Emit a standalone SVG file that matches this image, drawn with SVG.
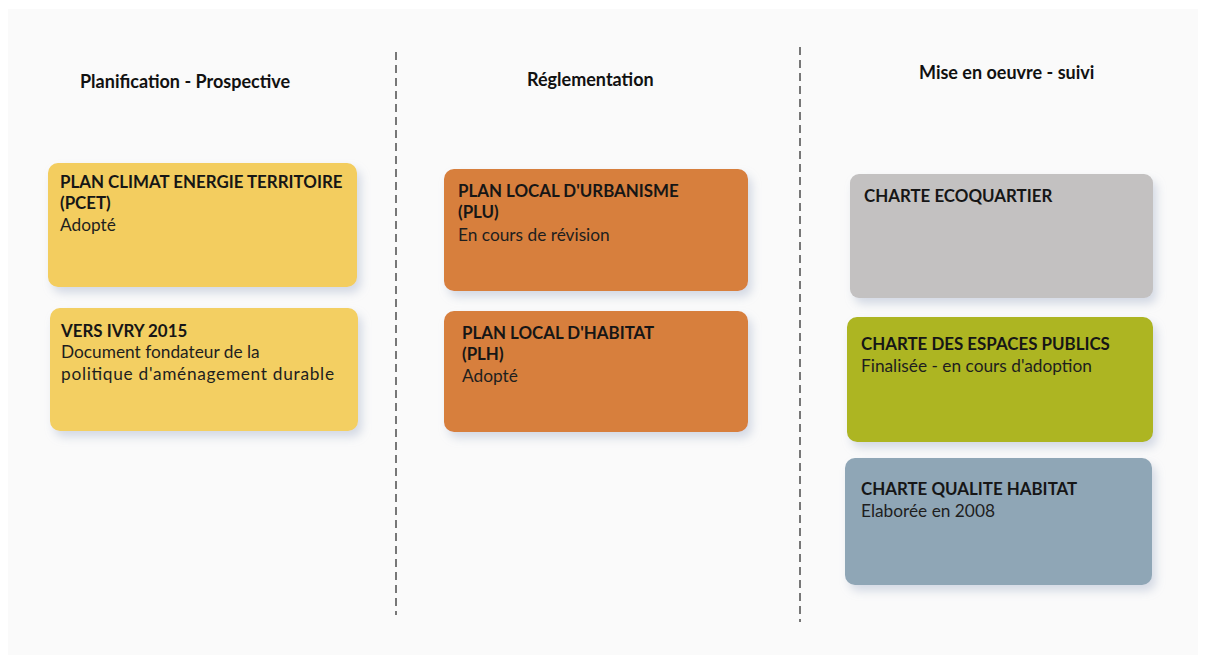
<svg xmlns="http://www.w3.org/2000/svg" width="1206" height="659" viewBox="0 0 1206 659">
<style>
.hdr{font-family:Lato,"Open Sans",sans-serif;font-weight:bold;font-size:18px;fill:#111}
.t{font-family:Lato,"Open Sans",sans-serif;font-weight:bold;font-size:16.9px;fill:#161616}
.s{font-family:Lato,"Open Sans",sans-serif;font-size:17.3px;fill:#1e1e1e}
.sep{stroke:#777;stroke-width:2;stroke-dasharray:8,5;fill:none}
.box{filter:url(#sh)}
</style>
<defs>
<filter id="sh" x="-10%" y="-15%" width="125%" height="140%">
<feDropShadow dx="4" dy="6" stdDeviation="5" flood-color="#9aa8c4" flood-opacity="0.4"/>
</filter>
</defs>
<rect width="1206" height="659" fill="#ffffff"/>
<rect x="8" y="9" width="1190" height="646" fill="#fafafa"/>
<g id="connectors">
<line class="sep" x1="396" y1="52" x2="396" y2="615"/>
<line class="sep" x1="800" y1="47" x2="800" y2="622"/>
</g>
<g id="headers">
<text class="hdr" x="80" y="88">Planification - Prospective</text>
<text class="hdr" x="527" y="86">Réglementation</text>
<text class="hdr" x="919" y="79">Mise en oeuvre - suivi</text>
</g>
<g id="pcet">
<rect class="box" x="48" y="163" width="309" height="124" rx="10" fill="#f3cd5e"/>
<text class="t" x="60" y="188">PLAN CLIMAT ENERGIE TERRITOIRE</text>
<text class="t" x="60" y="209">(PCET)</text>
<text class="s" x="60" y="231">Adopté</text>
</g>
<g id="versivry">
<rect class="box" x="50" y="308" width="308" height="123" rx="10" fill="#f3cf62"/>
<text class="t" x="61" y="337">VERS IVRY 2015</text>
<text class="s" x="61" y="358">Document fondateur de la</text>
<text class="s" x="61" y="380" textLength="273">politique d'aménagement durable</text>
</g>
<g id="plu">
<rect class="box" x="444" y="169" width="304" height="122" rx="10" fill="#d77f3e"/>
<text class="t" x="458" y="197">PLAN LOCAL D'URBANISME</text>
<text class="t" x="458" y="218">(PLU)</text>
<text class="s" x="458" y="241">En cours de révision</text>
</g>
<g id="plh">
<rect class="box" x="444" y="311" width="304" height="121" rx="10" fill="#d77f3e"/>
<text class="t" x="462" y="339">PLAN LOCAL D'HABITAT</text>
<text class="t" x="462" y="360">(PLH)</text>
<text class="s" x="462" y="382">Adopté</text>
</g>
<g id="ecoquartier">
<rect class="box" x="850" y="174" width="303" height="124" rx="9" fill="#c3c1c1"/>
<text class="t" x="864" y="202">CHARTE ECOQUARTIER</text>
</g>
<g id="espacespublics">
<rect class="box" x="847" y="317" width="306" height="125" rx="10" fill="#adb523"/>
<text class="t" x="861" y="350">CHARTE DES ESPACES PUBLICS</text>
<text class="s" x="861" y="372">Finalisée - en cours d'adoption</text>
</g>
<g id="qualitehabitat">
<rect class="box" x="845" y="458" width="307" height="127" rx="10" fill="#8fa6b6"/>
<text class="t" x="861" y="495">CHARTE QUALITE HABITAT</text>
<text class="s" x="861" y="517">Elaborée en 2008</text>
</g>
</svg>
